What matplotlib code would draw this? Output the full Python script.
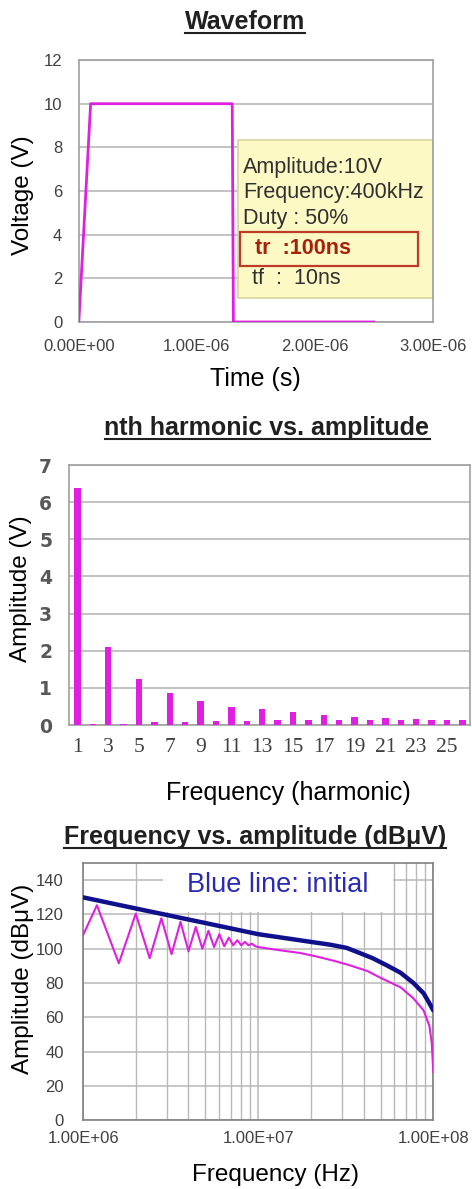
import numpy as np
import matplotlib.pyplot as plt
from matplotlib.patches import Rectangle
from matplotlib.lines import Line2D

plt.rcParams['font.family'] = ['Liberation Sans', 'DejaVu Sans']

# waveform (time in s, voltage in V)
wave_t = [0.0, 1.0e-7, 1.30e-6, 1.31e-6, 2.50e-6]
wave_v = [0, 10, 10, 0, 0]
info_lines = ["Amplitude:10V", "Frequency:400kHz", "Duty : 50%"]
tr_text = "tr  :100ns"
tf_text = "tf  :  10ns"

# harmonic amplitudes (V)
harm_n = list(range(1, 27))
harm_amp = [6.37, 0.03, 2.10, 0.04, 1.24, 0.07, 0.87, 0.09, 0.65, 0.10,
            0.49, 0.12, 0.42, 0.13, 0.34, 0.13, 0.28, 0.13, 0.21, 0.13,
            0.18, 0.14, 0.16, 0.14, 0.14, 0.14]
harm_ticks = list(range(1, 26, 2))

# spectrum (Hz, dBuV)
blue_f = [1e6, 2e6, 5e6, 1e7, 2e7, 2.6e7, 3.2e7, 3.8e7, 4.5e7, 5.5e7, 6.5e7,
          7.7e7, 8.8e7, 9.4e7, 1e8]
blue_db = [130, 123.5, 115, 108.5, 104, 102.3, 100.5, 97.5, 94.5, 90, 86,
           80, 74, 69, 64]
mag_f = [1.0e6, 1.2e6, 1.6e6, 2.0e6, 2.4e6, 2.8e6, 3.2e6, 3.6e6, 4.0e6, 4.4e6,
         4.8e6, 5.2e6, 5.6e6, 6.0e6, 6.4e6, 6.8e6, 7.2e6, 7.6e6, 8.0e6, 8.4e6,
         8.8e6, 9.2e6, 9.6e6, 1.0e7, 1.25e7, 1.74e7, 2.15e7, 2.7e7, 3.3e7,
         4.2e7, 5.0e7, 6.5e7, 7.7e7, 8.8e7, 9.5e7, 9.8e7, 1.0e8]
mag_db = [108, 125.4, 91.5, 120.5, 94.5, 117.8, 96.8, 115.7, 98.5, 112.7,
          100, 110.5, 101, 108.5, 101.5, 106.5, 102, 105, 102, 104,
          102, 103, 101.5, 101, 99.5, 97.5, 95.5, 93, 90.5,
          87, 83, 77.5, 71, 64, 55, 45, 28]

MAG = '#e020e0'
BLUE = '#10108c'
GRID = '#b8b8b8'
TICK = '#404040'

fig = plt.figure(figsize=(4.72, 11.89), dpi=100)


def title(x, y, s):
    t = fig.text(x, y, s, ha='center', va='center', fontsize=18,
                 fontweight='bold', color='#202020')
    return t


def style(ax, spine='#a0a0a0'):
    for sp in ax.spines.values():
        sp.set_color(spine)
        sp.set_linewidth(1.2)
    ax.set_axisbelow(True)


# ---- panel 1: waveform
ax1 = fig.add_axes([0.167, 0.7292, 0.750, 0.2203])
style(ax1)
ax1.plot(wave_t, wave_v, color=MAG, lw=2.0, zorder=3)
ax1.set_xlim(0, 3e-6)
ax1.set_ylim(0, 12)
ax1.set_yticks(range(0, 13, 2))
ax1.set_xticks([0, 1e-6, 2e-6, 3e-6])
ax1.set_xticklabels(["0.00E+00", "1.00E-06", "2.00E-06", "3.00E-06"])
ax1.yaxis.grid(True, color=GRID, lw=1.2)
ax1.tick_params(axis='both', length=0, labelsize=12, labelcolor=TICK)
ax1.tick_params(axis='x', pad=12)
ax1.tick_params(axis='y', pad=12)
ax1.set_xlabel("Time (s)", fontsize=18)
ax1.set_ylabel("Voltage (V)", fontsize=17.5)
ax1.xaxis.set_label_coords(0.5, -0.17)
ax1.yaxis.set_label_coords(-0.127, 0.485)
ax1.add_patch(Rectangle((1.35e-6, 1.1), 1.65e-6, 7.25, facecolor='#fcf9c4',
                        edgecolor='#d8d4a0', lw=1.2, zorder=2))
for yy, s in zip([7.1, 5.91, 4.76], info_lines):
    ax1.text(1.39e-6, yy, s, fontsize=15.5, color='#303030', va='center', zorder=4)
ax1.add_patch(Rectangle((1.364e-6, 2.57), 1.51e-6, 1.55, facecolor='none',
                        edgecolor='#c03a2a', lw=1.6, zorder=4))
ax1.text(1.49e-6, 3.38, tr_text, fontsize=15.5, color='#a8200c',
         fontweight='bold', va='center', zorder=4)
ax1.text(1.47e-6, 2.0, tf_text, fontsize=15.5, color='#303030', va='center', zorder=4)

# ---- panel 2: harmonics
ax2 = fig.add_axes([0.146, 0.3902, 0.850, 0.2187])
style(ax2)
ax2.bar(harm_n, harm_amp, width=0.42, color=MAG, zorder=3)
ax2.set_xlim(0.45, 26.5)
ax2.set_ylim(0, 7)
ax2.set_yticks(range(0, 8))
ax2.set_xticks(harm_ticks)
ax2.yaxis.grid(True, color=GRID, lw=1.2)
ax2.tick_params(axis='both', length=0, labelsize=13.5, labelcolor=TICK)
for lab in ax2.get_xticklabels():
    lab.set_family(['Liberation Serif', 'DejaVu Serif'])
    lab.set_fontsize(15.5)
for lab in ax2.get_yticklabels():
    lab.set_family(['DejaVu Sans'])
    lab.set_fontweight('semibold')
    lab.set_color('#585858')
ax2.tick_params(axis='x', pad=9)
ax2.tick_params(axis='y', pad=12)
ax2.set_xlabel("Frequency (harmonic)", fontsize=18)
ax2.set_ylabel("Amplitude (V)", fontsize=17.5)
ax2.xaxis.set_label_coords(0.546, -0.215)
ax2.yaxis.set_label_coords(-0.092, 0.523)

# ---- panel 3: spectrum
ax3 = fig.add_axes([0.176, 0.0580, 0.742, 0.2161])
style(ax3, '#808080')
ax3.set_xscale('log')
ax3.set_xlim(1e6, 1e8)
ax3.set_ylim(0, 150)
ax3.set_yticks(range(0, 141, 20))
ax3.set_xticks([1e6, 1e7, 1e8])
ax3.set_xticklabels(["1.00E+06", "1.00E+07", "1.00E+08"])
ax3.grid(True, which='major', color=GRID, lw=1.1)
ax3.grid(True, which='minor', axis='x', color=GRID, lw=1.0)
ax3.tick_params(axis='both', which='both', length=0, labelsize=12, labelcolor=TICK)
ax3.tick_params(axis='x', pad=8)
ax3.tick_params(axis='y', pad=14)
ax3.add_patch(Rectangle((2.87e6, 121.5), 5.9e7 - 2.87e6, 28.5, facecolor='white',
                        edgecolor='none', zorder=1.5))
ax3.text(1.3e7, 137.2, "Blue line: initial", fontsize=19.5, color='#2a2ab4',
         ha='center', va='center', zorder=2)
ax3.plot(mag_f, mag_db, color=MAG, lw=1.5, zorder=3)
ax3.plot(blue_f, blue_db, color=BLUE, lw=3.2, zorder=4, solid_capstyle='round')
ax3.set_xlabel("Frequency (Hz)", fontsize=17.5)
ax3.set_ylabel("Amplitude (dBμV)", fontsize=17.5)
ax3.xaxis.set_label_coords(0.55, -0.172)
ax3.yaxis.set_label_coords(-0.14, 0.549)

# titles with underline
titles = [title(245 / 472, 1 - 22 / 1189, "Waveform"),
          title(267 / 472, 1 - 428 / 1189, "nth harmonic vs. amplitude"),
          title(255 / 472, 1 - 837 / 1189, "Frequency vs. amplitude (dBμV)")]
fig.canvas.draw()
inv = fig.transFigure.inverted()
for t in titles:
    bb = t.get_window_extent().transformed(inv)
    fig.add_artist(Line2D([bb.x0, bb.x1], [bb.y0 + 0.001, bb.y0 + 0.001],
                          color='#202020', lw=1.5))

fig.savefig("out.png", dpi=100)
